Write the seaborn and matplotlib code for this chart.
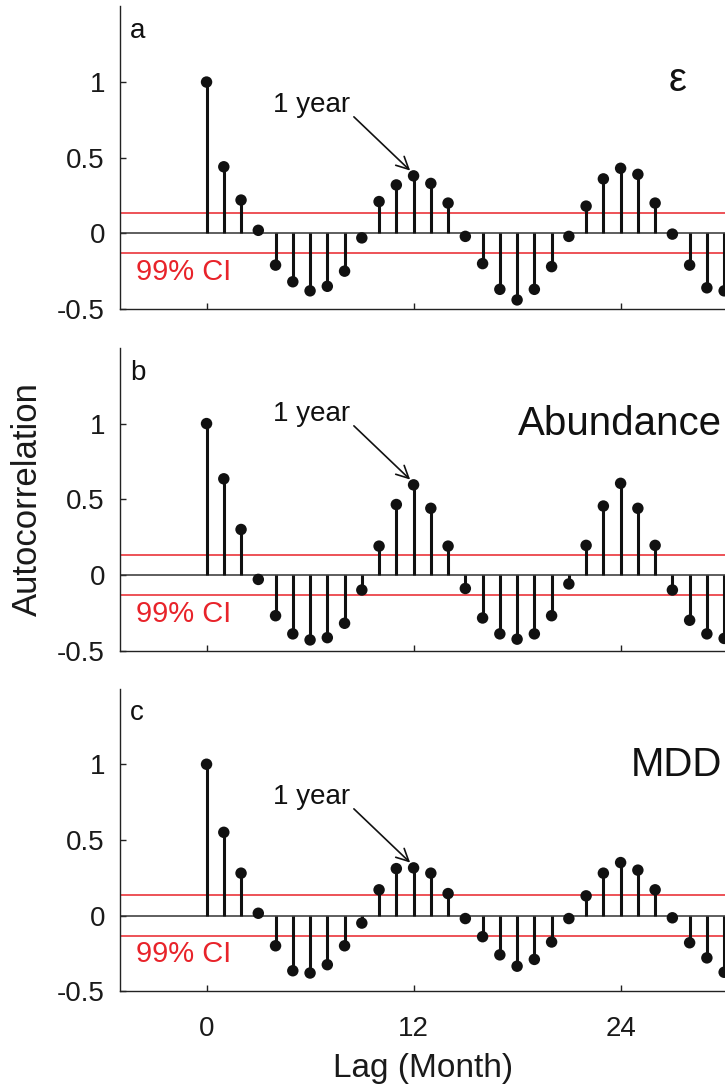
import numpy as np
import pandas as pd
import matplotlib
matplotlib.use("Agg")
import matplotlib.pyplot as plt
import seaborn as sns

# Sample autocorrelation of the monthly series, lags 0..30
lags = list(range(0, 31))
acf_eps = [1.00, 0.44, 0.22, 0.02, -0.21, -0.32, -0.38, -0.35, -0.25, -0.03,
           0.21, 0.32, 0.38, 0.33, 0.20, -0.02, -0.20, -0.37, -0.44, -0.37,
           -0.22, -0.02, 0.18, 0.36, 0.43, 0.39, 0.20, -0.005, -0.21, -0.36,
           -0.38]
acf_abundance = [1.00, 0.635, 0.30, -0.03, -0.27, -0.39, -0.43, -0.415, -0.32, -0.10,
                 0.19, 0.465, 0.595, 0.44, 0.19, -0.09, -0.285, -0.39, -0.425, -0.39,
                 -0.27, -0.06, 0.195, 0.455, 0.605, 0.44, 0.195, -0.10, -0.30, -0.39,
                 -0.42]
acf_mdd = [1.00, 0.55, 0.28, 0.015, -0.20, -0.365, -0.38, -0.325, -0.20, -0.05,
           0.17, 0.31, 0.315, 0.28, 0.145, -0.02, -0.14, -0.26, -0.335, -0.29,
           -0.175, -0.02, 0.13, 0.28, 0.35, 0.30, 0.17, -0.015, -0.18, -0.28,
           -0.375]

ci99 = 0.133
panel_letters = ["a", "b", "c"]
panel_names = ["\u03b5", "Abundance", "MDD"]
series = [acf_eps, acf_abundance, acf_mdd]
xticks = [0, 12, 24]
yticks = [-0.5, 0, 0.5, 1]
yticklabels = ["-0.5", "0", "0.5", "1"]

sns.set_theme(style="ticks")
plt.rcParams["font.family"] = ["Liberation Sans", "DejaVu Sans"]

fig = plt.figure(figsize=(7.25, 10.88), dpi=100)

left, width, height = 0.1659, 0.8341, 0.2781
bottoms = [0.7160, 0.4021, 0.0890]

ink = "#111111"
red = "#e8232a"

for i, (vals, letter, name) in enumerate(zip(series, panel_letters, panel_names)):
    ax = fig.add_axes([left, bottoms[i], width, height])
    df = pd.DataFrame({"lag": lags, "acf": vals})

    # confidence band and zero baseline
    ax.axhline(ci99, color=red, lw=1.1, zorder=1)
    ax.axhline(-ci99, color=red, lw=1.1, zorder=1)
    ax.axhline(0, color="#333333", lw=1.1, zorder=2)

    # stems with filled heads
    ax.vlines(df["lag"], 0, df["acf"], color=ink, lw=2.2, zorder=3)
    sns.scatterplot(data=df, x="lag", y="acf", ax=ax, color=ink,
                    s=68, edgecolor="none", linewidth=0, zorder=4, legend=False)

    ax.set_xlim(-5, 30.05)
    ax.set_ylim(-0.5, 1.5)
    ax.set_xticks(xticks)
    ax.set_yticks(yticks)
    ax.set_yticklabels(yticklabels)
    ax.tick_params(axis="both", direction="in", length=4, width=1,
                   colors="#222222", labelsize=20, labelcolor="#1a1a1a")
    ax.tick_params(axis="y", pad=11)
    ax.tick_params(axis="x", pad=18)
    for side in ("top", "right"):
        ax.spines[side].set_visible(False)
    for side in ("left", "bottom"):
        ax.spines[side].set_linewidth(1.0)
        ax.spines[side].set_color("#222222")

    ax.set_xlabel("")
    ax.set_ylabel("")
    if i < 2:
        ax.set_xticklabels([])
    else:
        ax.set_xticklabels([str(t) for t in xticks])
        ax.set_xlabel("Lag (Month)", fontsize=24, color="#1a1a1a", labelpad=8)
    if i == 1:
        ax.set_ylabel("Autocorrelation", fontsize=25, color="#1a1a1a")
        ax.yaxis.set_label_coords(-0.126, 0.5)

    # panel letter
    ax.text(-4.45, 1.29, letter, fontsize=20, color=ink,
            ha="left", va="baseline")
    # 99% CI label
    ax.text(-4.06, -0.31, "99% CI", fontsize=21, color=red,
            ha="left", va="baseline")
    # variable name
    if i == 0:
        ax.text(27.32, 0.94, name, fontsize=29, color=ink,
                ha="center", va="baseline")
    else:
        ax.text(29.9, 0.925, name, fontsize=29, color=ink,
                ha="right", va="baseline")

    # one-year annotation pointing at lag 12
    v12 = vals[12]
    ax.annotate("", xy=(11.8, v12 + 0.035), xytext=(8.54, v12 + 0.39),
                arrowprops=dict(arrowstyle="->", color=ink, lw=1.2,
                                shrinkA=0, shrinkB=0, mutation_scale=22))
    ax.text(8.31, v12 + 0.425, "1 year", fontsize=20, color=ink,
            ha="right", va="baseline")

fig.savefig("out.png", dpi=100)
